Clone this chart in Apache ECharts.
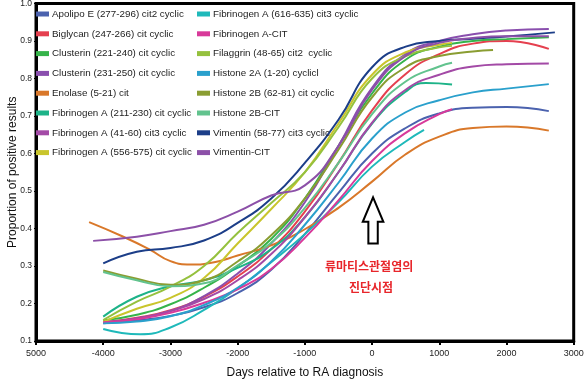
<!DOCTYPE html>
<html>
<head>
<meta charset="utf-8">
<script src="https://cdn.jsdelivr.net/npm/echarts@6/dist/echarts.min.js"></script>
<style>
html,body{margin:0;padding:0;background:#fff;}
#chart{width:587px;height:383px;}
</style>
</head>
<body>
<div id="chart"></div>
<script>
// ---------- data ----------
const xTickValues = [-5000, -4000, -3000, -2000, -1000, 0, 1000, 2000, 3000];
const yTickValues = [0.1, 0.2, 0.3, 0.4, 0.5, 0.6, 0.7, 0.8, 0.9, 1.0];

const seriesNames = [
  'Apolipo E (277-296) cit2 cyclic',
  'Biglycan (247-266) cit cyclic',
  'Clusterin (221-240) cit cyclic',
  'Clusterin (231-250) cit cyclic',
  'Enolase (5-21) cit',
  'Fibrinogen A (211-230) cit cyclic',
  'Fibrinogen A (41-60) cit3 cyclic',
  'Fibrinogen A (556-575) cit cyclic',
  'Fibrinogen A (616-635) cit3 cyclic',
  'Fibrinogen A-CIT',
  'Filaggrin (48-65) cit2  cyclic',
  'Histone 2A (1-20) cyclicl',
  'Histone 2B (62-81) cit cyclic',
  'Histone 2B-CIT',
  'Vimentin (58-77) cit3 cyclic',
  'Vimentin-CIT'
];

const apolipoE = [[-4000,0.147],[-3500,0.155],[-3000,0.167],[-2500,0.19],[-2000,0.228],[-1500,0.29],[-1000,0.385],[-500,0.495],[0,0.6],[500,0.668],[1000,0.707],[1500,0.722],[2000,0.724],[2630,0.713]];
const biglycan = [[-4000,0.15],[-3500,0.162],[-3000,0.182],[-2500,0.218],[-2000,0.272],[-1500,0.345],[-1000,0.445],[-500,0.575],[0,0.715],[500,0.812],[1000,0.865],[1500,0.893],[2000,0.9],[2630,0.879]];
const clusterin221 = [[-4000,0.155],[-3500,0.17],[-3000,0.198],[-2500,0.242],[-2000,0.3],[-1500,0.372],[-1000,0.48],[-500,0.62],[0,0.76],[500,0.85],[1000,0.885],[1500,0.9],[2000,0.905],[2630,0.91]];
const clusterin231 = [[-4000,0.15],[-3500,0.16],[-3000,0.18],[-2500,0.22],[-2000,0.28],[-1500,0.36],[-1000,0.47],[-500,0.62],[0,0.775],[500,0.865],[1000,0.9],[1500,0.918],[2000,0.928],[2630,0.932]];
const enolase = [[-4210,0.417],[-3700,0.378],[-3300,0.343],[-3000,0.313],[-2700,0.304],[-2350,0.31],[-2000,0.328],[-1500,0.355],[-1000,0.398],[-500,0.455],[0,0.525],[500,0.598],[1000,0.645],[1500,0.668],[2000,0.672],[2630,0.661]];
const fibA211 = [[-4000,0.165],[-3500,0.218],[-3000,0.246],[-2500,0.262],[-2000,0.295],[-1500,0.345],[-1000,0.43],[-500,0.55],[0,0.68],[500,0.765],[800,0.788],[1190,0.784]];
const fibA41 = [[-4000,0.148],[-3500,0.16],[-3000,0.18],[-2500,0.212],[-2000,0.262],[-1500,0.332],[-1000,0.43],[-500,0.55],[0,0.682],[500,0.77],[1000,0.81],[1500,0.832],[2000,0.838],[2630,0.84]];
const fibA556 = [[-4000,0.151],[-3500,0.186],[-3000,0.215],[-2500,0.268],[-2000,0.36],[-1500,0.452],[-1000,0.55],[-500,0.68],[0,0.81],[500,0.87],[1000,0.89],[1190,0.895]];
const fibA616 = [[-4000,0.132],[-3450,0.118],[-3000,0.136],[-2500,0.183],[-2000,0.24],[-1500,0.31],[-1000,0.385],[-500,0.47],[0,0.565],[500,0.632],[773,0.663]];
const fibACit = [[-4000,0.15],[-3500,0.158],[-3000,0.175],[-2500,0.202],[-2000,0.238],[-1500,0.292],[-1000,0.375],[-500,0.475],[0,0.58],[500,0.655],[1000,0.705],[1190,0.718]];
const filaggrin = [[-4000,0.156],[-3500,0.205],[-3000,0.245],[-2500,0.3],[-2000,0.388],[-1500,0.468],[-1000,0.55],[-500,0.67],[0,0.8],[500,0.86],[1000,0.883],[1190,0.887]];
const histone2A = [[-4000,0.147],[-3500,0.152],[-3000,0.166],[-2500,0.196],[-2000,0.242],[-1500,0.312],[-1000,0.41],[-500,0.522],[0,0.64],[500,0.71],[1000,0.742],[1500,0.763],[2000,0.773],[2630,0.785]];
const histone2B = [[-4000,0.288],[-3500,0.266],[-3000,0.25],[-2500,0.262],[-2000,0.312],[-1500,0.382],[-1000,0.48],[-500,0.61],[0,0.75],[500,0.83],[1000,0.86],[1500,0.872],[1800,0.876]];
const histone2BCit = [[-4000,0.284],[-3500,0.262],[-3000,0.246],[-2500,0.254],[-2000,0.302],[-1500,0.362],[-1000,0.455],[-500,0.575],[0,0.705],[500,0.792],[1000,0.832],[1190,0.842]];
const vimentin58 = [[-4000,0.307],[-3500,0.338],[-3000,0.348],[-2500,0.368],[-2000,0.415],[-1500,0.48],[-1000,0.575],[-500,0.69],[0,0.83],[500,0.885],[1000,0.9],[1500,0.906],[2000,0.912],[2720,0.923]];
const vimentinCit = [[-4150,0.367],[-3500,0.378],[-3000,0.393],[-2500,0.41],[-2000,0.445],[-1500,0.488],[-1000,0.515],[-500,0.62],[0,0.77],[500,0.86],[1000,0.895],[1500,0.908],[2000,0.913],[2630,0.913]];

const seriesData = [apolipoE, biglycan, clusterin221, clusterin231, enolase, fibA211, fibA41, fibA556, fibA616, fibACit, filaggrin, histone2A, histone2B, histone2BCit, vimentin58, vimentinCit];

const annotationLines = ['류마티스관절염의', '진단시점'];

// ---------- styles ----------
const colors = ['#4b62ae','#e5404f','#36b44a','#8a4fae','#d9782a','#1db388','#a34aa6','#c9c52c','#1fb9ba','#d83a9a','#95c13e','#2aa0cc','#8a9d32','#62c38e','#1c3e88','#8c50a8'];
const FONT = '"Liberation Sans", Arial, sans-serif';

const chart = echarts.init(document.getElementById('chart'), null, {renderer: 'canvas'});

const series = seriesNames.map((n, i) => ({
  name: n,
  type: 'line',
  data: seriesData[i],
  smooth: true,
  showSymbol: false,
  symbol: 'none',
  lineStyle: {width: 2, color: colors[i]},
  itemStyle: {color: colors[i]},
  emphasis: {disabled: true},
  z: 2
}));

const legendCommon = {
  orient: 'vertical',
  icon: 'rect',
  itemWidth: 13,
  itemHeight: 5,
  itemGap: 7.8,
  padding: 0,
  selectedMode: false,
  textStyle: {fontFamily: FONT, fontSize: 9.8, color: '#222', lineHeight: 12, padding: [0,0,0,-2]}
};

chart.setOption({
  animation: false,
  backgroundColor: '#fff',
  color: colors,
  grid: {left: 36, right: 13.3, top: 3.5, bottom: 42, show: true, borderColor: '#000', borderWidth: 3,
    backgroundColor: 'transparent', containLabel: false, outerBoundsMode: 'none'},
  legend: [
    Object.assign({left: 36, top: 8, data: seriesNames.slice(0, 8)}, legendCommon),
    Object.assign({left: 197, top: 8, data: seriesNames.slice(8)}, legendCommon)
  ],
  xAxis: {
    type: 'value',
    min: -5000, max: 3000,
    interval: 1000,
    name: 'Days relative to RA diagnosis',
    nameLocation: 'middle',
    nameGap: 26,
    nameMoveOverlap: false,
    nameTextStyle: {fontFamily: FONT, fontSize: 12, color: '#111'},
    axisLine: {show: true, onZero: false, lineStyle: {color: '#000', width: 3}},
    axisTick: {show: true, length: 4, lineStyle: {color: '#000', width: 2}},
    axisLabel: {fontFamily: FONT, fontSize: 9, color: '#222', margin: 8,
      formatter: v => (v === xTickValues[0] ? String(Math.abs(v)) : String(v))},
    splitLine: {show: false}
  },
  yAxis: {
    type: 'value',
    min: 0.1, max: 1.0,
    interval: 0.1,
    name: 'Proportion of positive results',
    nameLocation: 'middle',
    nameGap: 17,
    nameMoveOverlap: false,
    nameTextStyle: {fontFamily: FONT, fontSize: 12, color: '#111'},
    axisLine: {show: true, onZero: false, lineStyle: {color: '#000', width: 3}},
    axisTick: {show: true, length: 2, lineStyle: {color: '#000', width: 1}},
    axisLabel: {fontFamily: FONT, fontSize: 8.5, color: '#222', margin: 4,
      formatter: v => (Math.round(v * 10) / 10).toFixed(1)},
    splitLine: {show: false}
  },
  series: series
});

// annotation arrow + text anchored at day 0 through the axis scales
function P(x, y) { return chart.convertToPixel({gridIndex: 0}, [x, y]); }
const tip = P(0, 0.483);
const head = P(0, 0.418);
const base = P(0, 0.36);
const cx = tip[0] + 1;
const hw = 10.3, sw = 4.7;
const t1 = P(0, 0.30);
const t2 = P(0, 0.243);
chart.setOption({
  graphic: [
    {type: 'polygon', z: 10,
      shape: {points: [[cx, tip[1]], [cx + hw, head[1]], [cx + sw, head[1]], [cx + sw, base[1]], [cx - sw, base[1]], [cx - sw, head[1]], [cx - hw, head[1]]]},
      style: {fill: '#fff', stroke: '#000', lineWidth: 2}},
    {type: 'text', z: 10, x: cx - 4, y: t1[1],
      style: {text: annotationLines[0], fill: '#e8262b', font: 'bold 12px "Noto Sans CJK KR", sans-serif', align: 'center', verticalAlign: 'middle'}},
    {type: 'text', z: 10, x: cx - 2, y: t2[1],
      style: {text: annotationLines[1], fill: '#e8262b', font: 'bold 12px "Noto Sans CJK KR", sans-serif', align: 'center', verticalAlign: 'middle'}}
  ]
});
</script>
</body>
</html>
